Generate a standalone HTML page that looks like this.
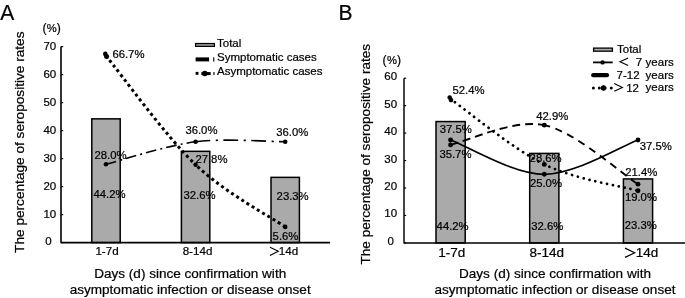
<!DOCTYPE html>
<html><head><meta charset="utf-8"><style>
html,body{margin:0;padding:0;background:#fff;}
svg{display:block;filter:grayscale(1);}
text{font-family:"Liberation Sans", sans-serif;fill:#000;stroke:#000;stroke-width:0.22px;}
</style></head><body>
<svg width="685" height="298" viewBox="0 0 685 298">

<text transform="translate(0.2,19.9) scale(1,1.07)" style="font-size:21px">A</text>
<text x="42.4" y="31.6" style="font-size:12.2px">(</text><text x="46.8" y="31.6" style="font-size:11.2px">%</text><text x="56.7" y="31.6" style="font-size:12.2px">)</text>
<text transform="translate(24.4,142.2) rotate(-90)" text-anchor="middle" style="font-size:13.65px">The percentage of seropositive rates</text>
<text x="48.4" y="245.10" text-anchor="middle" style="font-size:11.5px">0</text>
<line x1="61.0" y1="242.60" x2="63.2" y2="242.60" stroke="#000" stroke-width="1.2"/>
<text x="49.85" y="217.80" text-anchor="middle" style="font-size:11.5px">10</text>
<line x1="61.0" y1="214.60" x2="63.2" y2="214.60" stroke="#000" stroke-width="1.2"/>
<text x="49.85" y="189.80" text-anchor="middle" style="font-size:11.5px">20</text>
<line x1="61.0" y1="186.60" x2="63.2" y2="186.60" stroke="#000" stroke-width="1.2"/>
<text x="49.85" y="161.80" text-anchor="middle" style="font-size:11.5px">30</text>
<line x1="61.0" y1="158.60" x2="63.2" y2="158.60" stroke="#000" stroke-width="1.2"/>
<text x="49.85" y="133.80" text-anchor="middle" style="font-size:11.5px">40</text>
<line x1="61.0" y1="130.60" x2="63.2" y2="130.60" stroke="#000" stroke-width="1.2"/>
<text x="49.85" y="105.80" text-anchor="middle" style="font-size:11.5px">50</text>
<line x1="61.0" y1="102.60" x2="63.2" y2="102.60" stroke="#000" stroke-width="1.2"/>
<text x="49.85" y="77.80" text-anchor="middle" style="font-size:11.5px">60</text>
<line x1="61.0" y1="74.60" x2="63.2" y2="74.60" stroke="#000" stroke-width="1.2"/>
<text x="49.85" y="49.80" text-anchor="middle" style="font-size:11.5px">70</text>
<line x1="61.0" y1="46.60" x2="63.2" y2="46.60" stroke="#000" stroke-width="1.2"/>
<rect x="91.80" y="118.84" width="28.4" height="123.76" fill="#aaaaaa" stroke="#000" stroke-width="1.5"/>
<rect x="181.40" y="151.32" width="28.4" height="91.28" fill="#aaaaaa" stroke="#000" stroke-width="1.5"/>
<rect x="271.00" y="177.36" width="28.4" height="65.24" fill="#aaaaaa" stroke="#000" stroke-width="1.5"/>
<path d="M61.0,46.60 V242.6 H330" fill="none" stroke="#000" stroke-width="1.6" stroke-linejoin="round"/>
<text x="93.5" y="198.2" style="font-size:11.3px">44.2%</text>
<text x="183.5" y="199.4" style="font-size:11.3px">32.6%</text>
<text x="276.6" y="200.0" style="font-size:11.3px">23.3%</text>
<path d="M106.00,164.20 C120.93,160.47 165.73,145.53 195.60,141.80" fill="none" stroke="#000" stroke-width="1.6" stroke-dasharray="10.7,4.1,2,4.0"/>
<path d="M195.60,141.80 C225.47,138.07 270.27,141.80 285.20,141.80" fill="none" stroke="#000" stroke-width="1.6" stroke-dasharray="14.7,5.6,2.2,5.3"/>
<path d="M106.00,55.84 C120.93,73.99 165.73,136.25 195.60,164.76" fill="none" stroke="#000" stroke-width="3" stroke-dasharray="3,3.1" stroke-dashoffset="0.5"/>
<path d="M195.60,164.76 C225.47,193.27 270.27,216.56 285.20,226.92" fill="none" stroke="#000" stroke-width="3" stroke-dasharray="3,3.1" stroke-dashoffset="3.4"/>
<circle cx="106.00" cy="164.20" r="2.3" fill="#000"/>
<circle cx="195.60" cy="141.80" r="2.3" fill="#000"/>
<circle cx="285.20" cy="141.80" r="2.3" fill="#000"/>
<circle cx="195.60" cy="164.76" r="2.3" fill="#000"/>
<circle cx="285.20" cy="226.92" r="2.3" fill="#000"/>
<circle cx="105.3" cy="53.9" r="2.3" fill="#000"/><circle cx="106.6" cy="56.6" r="2.5" fill="#000"/>
<text x="112.4" y="58.4" style="font-size:11.3px">66.7%</text>
<text x="94.5" y="158.8" style="font-size:11.3px">28.0%</text>
<text x="185.4" y="134.3" style="font-size:11.3px">36.0%</text>
<text x="195.4" y="163.0" style="font-size:11.3px">27.8%</text>
<text x="276.2" y="136.4" style="font-size:11.3px">36.0%</text>
<text x="272.6" y="239.6" style="font-size:11.3px">5.6%</text>
<text x="107" y="255" text-anchor="middle" style="font-size:11.6px">1-7d</text>
<text x="197.5" y="255" text-anchor="middle" style="font-size:11.6px">8-14d</text>
<polyline points="270,247.2 278.3,251.3 270,255.5" fill="none" stroke="#000" stroke-width="1.1"/>
<text x="278.8" y="255" style="font-size:11.6px">14d</text>
<text x="190.2" y="277.8" text-anchor="middle" style="font-size:13.55px">Days (d) since confirmation with</text>
<text x="190.2" y="293.5" text-anchor="middle" style="font-size:13.55px">asymptomatic infection or disease onset</text>
<rect x="195.6" y="43.55" width="18.8" height="2.8" fill="#aaaaaa" stroke="#000" stroke-width="1.3"/>
<text x="217" y="46.8" style="font-size:11.5px">Total</text>
<rect x="195.6" y="57.4" width="13.5" height="4" fill="#000"/>
<rect x="213.0" y="57.3" width="1.4" height="4.3" fill="#333"/>
<text x="217" y="60.8" style="font-size:11.5px">Symptomatic cases</text>
<rect x="195.6" y="71.9" width="2.9" height="2.9" fill="#000"/>
<rect x="201.4" y="72.1" width="9.3" height="3.0" fill="#000"/>
<circle cx="204.8" cy="73.6" r="2.75" fill="#000"/>
<rect x="213.2" y="72.0" width="1.5" height="3" fill="#444"/>
<text x="217" y="74.9" style="font-size:11.5px">Asymptomatic cases</text>
<text transform="translate(338.4,19.5) scale(1,1.07)" style="font-size:21px">B</text>
<text x="382.4" y="64.0" style="font-size:12.2px">(</text><text x="386.9" y="64.0" style="font-size:11.2px">%</text><text x="397.1" y="64.0" style="font-size:12.2px">)</text>
<text transform="translate(370.4,154.2) rotate(-90)" text-anchor="middle" style="font-size:13.6px">The percentage of seropositive rates</text>
<text x="390.7" y="244.90" text-anchor="middle" style="font-size:11.5px">0</text>
<line x1="404.0" y1="242.90" x2="406.2" y2="242.90" stroke="#000" stroke-width="1.2"/>
<text x="390.7" y="217.45" text-anchor="middle" style="font-size:11.5px">10</text>
<line x1="404.0" y1="215.45" x2="406.2" y2="215.45" stroke="#000" stroke-width="1.2"/>
<text x="390.7" y="190.00" text-anchor="middle" style="font-size:11.5px">20</text>
<line x1="404.0" y1="188.00" x2="406.2" y2="188.00" stroke="#000" stroke-width="1.2"/>
<text x="390.7" y="162.55" text-anchor="middle" style="font-size:11.5px">30</text>
<line x1="404.0" y1="160.55" x2="406.2" y2="160.55" stroke="#000" stroke-width="1.2"/>
<text x="390.7" y="135.10" text-anchor="middle" style="font-size:11.5px">40</text>
<line x1="404.0" y1="133.10" x2="406.2" y2="133.10" stroke="#000" stroke-width="1.2"/>
<text x="390.7" y="107.65" text-anchor="middle" style="font-size:11.5px">50</text>
<line x1="404.0" y1="105.65" x2="406.2" y2="105.65" stroke="#000" stroke-width="1.2"/>
<text x="390.7" y="80.20" text-anchor="middle" style="font-size:11.5px">60</text>
<line x1="404.0" y1="78.20" x2="406.2" y2="78.20" stroke="#000" stroke-width="1.2"/>
<rect x="436.00" y="121.57" width="29.2" height="121.33" fill="#aaaaaa" stroke="#000" stroke-width="1.5"/>
<rect x="529.70" y="153.41" width="29.2" height="89.49" fill="#aaaaaa" stroke="#000" stroke-width="1.5"/>
<rect x="623.40" y="178.94" width="29.2" height="63.96" fill="#aaaaaa" stroke="#000" stroke-width="1.5"/>
<path d="M404.0,78.20 V242.9 H685" fill="none" stroke="#000" stroke-width="1.45" stroke-linejoin="round"/>
<text x="436.6" y="229.6" style="font-size:11.3px">44.2%</text>
<text x="531.3" y="229.6" style="font-size:11.3px">32.6%</text>
<text x="624.7" y="229.3" style="font-size:11.3px">23.3%</text>
<path d="M450.60,139.96 C466.22,145.68 513.07,174.28 544.30,174.28 C575.53,174.28 622.38,145.68 638.00,139.96" fill="none" stroke="#000" stroke-width="1.75"/>
<path d="M450.60,144.90 C466.22,141.61 513.07,118.60 544.30,125.14" fill="none" stroke="#000" stroke-width="1.9" stroke-dasharray="8,4.9"/>
<path d="M544.30,125.14 C575.53,131.68 622.38,174.32 638.00,184.16" fill="none" stroke="#000" stroke-width="1.9" stroke-dasharray="7.3,5.7" stroke-dashoffset="1.3"/>
<path d="M450.60,99.06 C466.22,109.95 513.07,149.11 544.30,164.39" fill="none" stroke="#000" stroke-width="2.8" stroke-dasharray="0.01,5.99" stroke-dashoffset="0.3" stroke-linecap="round"/>
<path d="M544.30,164.39 C575.53,179.67 622.38,186.35 638.00,190.75" fill="none" stroke="#000" stroke-width="2.8" stroke-dasharray="0.01,5.99" stroke-dashoffset="0.3" stroke-linecap="round"/>
<circle cx="450.60" cy="139.96" r="2.45" fill="#000"/>
<circle cx="544.30" cy="174.28" r="2.45" fill="#000"/>
<circle cx="638.00" cy="139.96" r="2.45" fill="#000"/>
<circle cx="450.60" cy="144.90" r="2.45" fill="#000"/>
<circle cx="544.30" cy="125.14" r="2.45" fill="#000"/>
<circle cx="638.00" cy="184.16" r="2.45" fill="#000"/>
<circle cx="544.30" cy="164.39" r="2.45" fill="#000"/>
<circle cx="638.00" cy="190.75" r="2.45" fill="#000"/>
<circle cx="449.7" cy="97.5" r="2.3" fill="#000"/><circle cx="451.0" cy="100.1" r="2.3" fill="#000"/>
<text x="452.5" y="94.3" style="font-size:11.3px">52.4%</text>
<text x="439.8" y="133.0" style="font-size:11.3px">37.5%</text>
<text x="439.4" y="158.3" style="font-size:11.3px">35.7%</text>
<text x="536.2" y="120.1" style="font-size:11.3px">42.9%</text>
<text x="529.6" y="161.9" style="font-size:11.3px">28.6%</text>
<text x="529.9" y="186.6" style="font-size:11.3px">25.0%</text>
<text x="639.8" y="150.1" style="font-size:11.3px">37.5%</text>
<text x="625.3" y="176.1" style="font-size:11.3px">21.4%</text>
<text x="624.9" y="201.1" style="font-size:11.3px">19.0%</text>
<text x="451.75" y="257.2" text-anchor="middle" style="font-size:13.5px">1-7d</text>
<text x="546.7" y="257.2" text-anchor="middle" style="font-size:13.5px">8-14d</text>
<polyline points="625,248.1 634.7,252.8 625,257.4" fill="none" stroke="#000" stroke-width="1.2"/>
<text x="635.7" y="257.2" style="font-size:13.5px">14d</text>
<text x="555.0" y="277.8" text-anchor="middle" style="font-size:13.55px">Days (d) since confirmation with</text>
<text x="555.0" y="293.5" text-anchor="middle" style="font-size:13.55px">asymptomatic infection or disease onset</text>
<rect x="593.6" y="48.1" width="18.8" height="3.1" fill="#aaaaaa" stroke="#000" stroke-width="1.3"/>
<text x="617" y="53.3" style="font-size:11.5px">Total</text>
<line x1="593" y1="62.4" x2="612.7" y2="62.4" stroke="#000" stroke-width="1.8"/>
<circle cx="602.6" cy="62.4" r="2.2" fill="#000"/>
<polyline points="628.2,58 620,61.7 628.2,65.4" fill="none" stroke="#000" stroke-width="1.1"/>
<text x="635.8" y="65.6" style="font-size:11.5px">7</text>
<text x="645.6" y="65.6" style="font-size:11.5px">years</text>
<line x1="593.2" y1="75.2" x2="607" y2="75.2" stroke="#000" stroke-width="4.2" stroke-linecap="round"/>
<text x="616.6" y="78.7" style="font-size:11.5px">7-12</text>
<text x="645.6" y="78.6" style="font-size:11.5px">years</text>
<circle cx="593.4" cy="88.0" r="1.5" fill="#000"/>
<circle cx="599.3" cy="88.0" r="1.5" fill="#000"/>
<circle cx="611.3" cy="88.0" r="1.5" fill="#000"/>
<circle cx="603.5" cy="88.0" r="2.7" fill="#000"/>
<polygon points="603.3,85.3 607.2,88 603.3,90.7" fill="#000"/>
<polyline points="614.2,83.5 622.4,87.4 614.2,91.2" fill="none" stroke="#000" stroke-width="1.1"/>
<text x="626.2" y="91.5" style="font-size:11.5px">12</text>
<text x="645.6" y="90.8" style="font-size:11.5px">years</text>
</svg>
</body></html>
